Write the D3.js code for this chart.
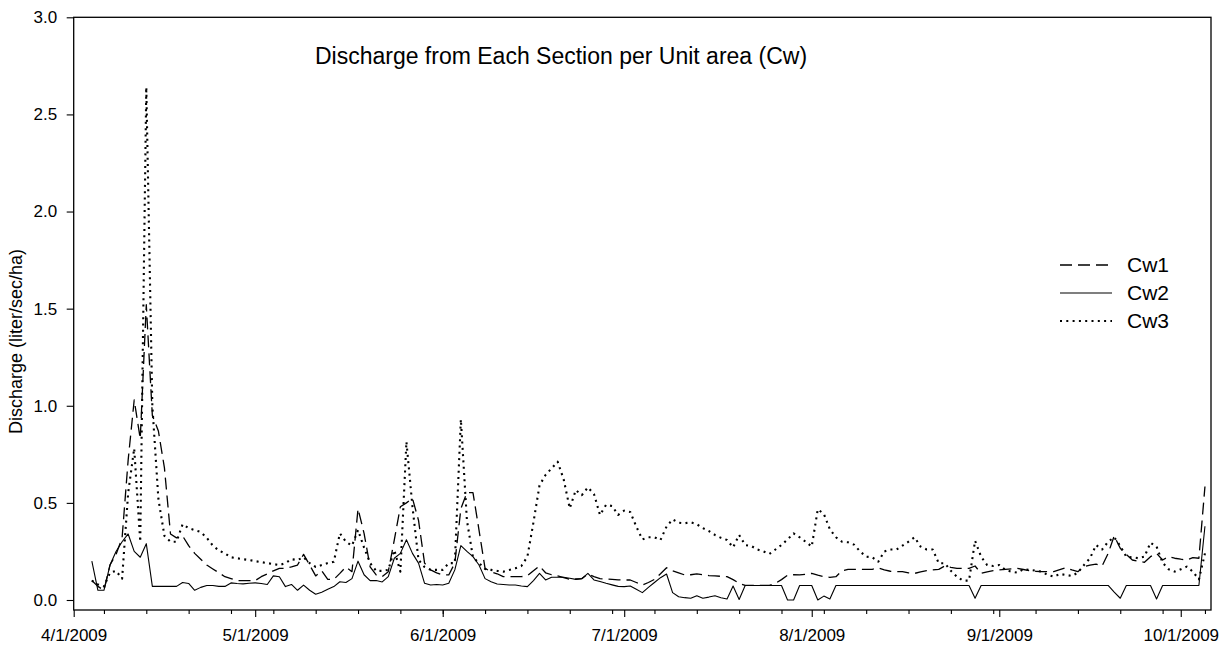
<!DOCTYPE html>
<html>
<head>
<meta charset="utf-8">
<script src="https://cdn.jsdelivr.net/npm/d3@7"></script>
<style>
  html, body { margin: 0; padding: 0; background: #fff; }
  svg { display: block; }
  text { font-family: Arial, "Liberation Sans", sans-serif; fill: #000; }
</style>
</head>
<body>
<svg id="chart" width="1222" height="650"></svg>
<script>
// ---------------- DATA ----------------
const title = "Discharge from Each Section per Unit area (Cw)";
const yLabel = "Discharge (liter/sec/ha)";
const seriesNames = ["Cw1", "Cw2", "Cw3"];
const yTicks = [0, 0.5, 1.0, 1.5, 2.0, 2.5, 3.0];
const xTickDates = ["2009-04-01","2009-05-01","2009-06-01","2009-07-01","2009-08-01","2009-09-01","2009-10-01"];
const xDomain = ["2009-04-01", "2009-10-06"];

const dates = [
  // April
  "2009-04-04","2009-04-05","2009-04-06","2009-04-07","2009-04-08","2009-04-09","2009-04-10","2009-04-11","2009-04-12","2009-04-13",
  "2009-04-14","2009-04-15","2009-04-16","2009-04-17","2009-04-18","2009-04-19","2009-04-20","2009-04-21","2009-04-22","2009-04-23",
  "2009-04-24","2009-04-25","2009-04-26","2009-04-27","2009-04-28","2009-04-29","2009-04-30",
  // May
  "2009-05-01","2009-05-02","2009-05-03","2009-05-04","2009-05-05","2009-05-06","2009-05-07","2009-05-08","2009-05-09","2009-05-10",
  "2009-05-11","2009-05-12","2009-05-13","2009-05-14","2009-05-15","2009-05-16","2009-05-17","2009-05-18","2009-05-19","2009-05-20",
  "2009-05-21","2009-05-22","2009-05-23","2009-05-24","2009-05-25","2009-05-26","2009-05-27","2009-05-28","2009-05-29","2009-05-30",
  "2009-05-31",
  // June
  "2009-06-01","2009-06-02","2009-06-03","2009-06-04","2009-06-05","2009-06-06","2009-06-07","2009-06-08","2009-06-09","2009-06-10",
  "2009-06-11","2009-06-12","2009-06-13","2009-06-14","2009-06-15","2009-06-16","2009-06-17","2009-06-18","2009-06-19","2009-06-20",
  "2009-06-21","2009-06-22","2009-06-23","2009-06-24","2009-06-25","2009-06-26","2009-06-27","2009-06-28","2009-06-29","2009-06-30",
  // July
  "2009-07-01","2009-07-02","2009-07-03","2009-07-04","2009-07-05","2009-07-06","2009-07-07","2009-07-08","2009-07-09","2009-07-10",
  "2009-07-11","2009-07-12","2009-07-13","2009-07-14","2009-07-15","2009-07-16","2009-07-17","2009-07-18","2009-07-19","2009-07-20",
  "2009-07-21","2009-07-22","2009-07-23","2009-07-24","2009-07-25","2009-07-26","2009-07-27","2009-07-28","2009-07-29","2009-07-30",
  "2009-07-31",
  // August
  "2009-08-01","2009-08-02","2009-08-03","2009-08-04","2009-08-05","2009-08-06","2009-08-07","2009-08-08","2009-08-09","2009-08-10",
  "2009-08-11","2009-08-12","2009-08-13","2009-08-14","2009-08-15","2009-08-16","2009-08-17","2009-08-18","2009-08-19","2009-08-20",
  "2009-08-21","2009-08-22","2009-08-23","2009-08-24","2009-08-25","2009-08-26","2009-08-27","2009-08-28","2009-08-29","2009-08-30",
  "2009-08-31",
  // September
  "2009-09-01","2009-09-02","2009-09-03","2009-09-04","2009-09-05","2009-09-06","2009-09-07","2009-09-08","2009-09-09","2009-09-10",
  "2009-09-11","2009-09-12","2009-09-13","2009-09-14","2009-09-15","2009-09-16","2009-09-17","2009-09-18","2009-09-19","2009-09-20",
  "2009-09-21","2009-09-22","2009-09-23","2009-09-24","2009-09-25","2009-09-26","2009-09-27","2009-09-28","2009-09-29","2009-09-30",
  // October
  "2009-10-01","2009-10-02","2009-10-03","2009-10-04","2009-10-05"
];

const cw1 = [
  // April
  0.10,0.07,0.05,0.18,0.235,0.32,0.72,1.03,0.83,1.52,
  0.95,0.87,0.68,0.34,0.32,0.33,0.28,0.24,0.21,0.18,
  0.16,0.14,0.12,0.11,0.10,0.10,0.10,
  // May
  0.10,0.12,0.134,0.15,0.163,0.163,0.17,0.18,0.235,0.18,
  0.124,0.15,0.106,0.106,0.137,0.17,0.146,0.47,0.343,0.17,
  0.129,0.12,0.146,0.31,0.48,0.50,0.523,0.41,0.19,0.155,
  0.14,
  // June
  0.129,0.129,0.19,0.47,0.553,0.553,0.36,0.163,0.145,0.135,
  0.12,0.12,0.12,0.12,0.125,0.15,0.175,0.14,0.13,0.124,
  0.115,0.106,0.108,0.11,0.134,0.12,0.11,0.108,0.106,0.104,
  // July
  0.103,0.103,0.09,0.077,0.09,0.106,0.135,0.166,0.15,0.14,
  0.129,0.13,0.134,0.13,0.126,0.124,0.122,0.12,0.105,0.086,
  0.075,0.075,0.075,0.075,0.075,0.086,0.105,0.127,0.13,0.129,
  0.132,
  // August
  0.137,0.128,0.12,0.117,0.12,0.15,0.158,0.158,0.158,0.158,
  0.158,0.165,0.155,0.148,0.146,0.146,0.14,0.137,0.145,0.151,
  0.155,0.158,0.175,0.168,0.163,0.163,0.163,0.175,0.137,0.145,
  0.151,
  // September
  0.155,0.158,0.16,0.163,0.157,0.151,0.148,0.146,0.146,0.146,
  0.156,0.166,0.155,0.146,0.172,0.18,0.185,0.175,0.24,0.33,
  0.266,0.235,0.206,0.2,0.194,0.223,0.24,0.206,0.223,0.215,
  // October
  0.21,0.206,0.218,0.215,0.584
];

const cw2 = [
  // April
  0.20,0.05,0.05,0.18,0.25,0.30,0.34,0.25,0.22,0.29,
  0.07,0.07,0.07,0.07,0.07,0.09,0.085,0.05,0.065,0.075,
  0.075,0.07,0.07,0.088,0.085,0.083,0.086,
  // May
  0.088,0.085,0.08,0.124,0.12,0.069,0.08,0.05,0.077,0.05,
  0.03,0.04,0.055,0.069,0.094,0.09,0.11,0.20,0.13,0.10,
  0.10,0.093,0.12,0.215,0.24,0.31,0.24,0.19,0.086,0.077,
  0.08,
  // June
  0.077,0.086,0.155,0.28,0.25,0.223,0.18,0.11,0.094,0.082,
  0.08,0.077,0.077,0.072,0.069,0.10,0.137,0.103,0.117,0.117,
  0.117,0.112,0.106,0.11,0.137,0.103,0.095,0.086,0.078,0.07,
  // July
  0.069,0.072,0.055,0.038,0.065,0.09,0.115,0.134,0.038,0.017,
  0.012,0.009,0.022,0.009,0.015,0.022,0.012,0.005,0.072,0.003,
  0.075,0.075,0.075,0.075,0.075,0.075,0.075,0.0,0.0,0.075,
  0.075,
  // August
  0.075,0.0,0.02,0.005,0.075,0.075,0.075,0.075,0.075,0.075,
  0.075,0.075,0.075,0.075,0.075,0.075,0.075,0.075,0.075,0.075,
  0.075,0.075,0.075,0.075,0.075,0.075,0.075,0.009,0.075,0.075,
  0.075,
  // September
  0.075,0.075,0.075,0.075,0.075,0.075,0.075,0.075,0.075,0.075,
  0.075,0.075,0.075,0.075,0.075,0.075,0.075,0.075,0.075,0.04,
  0.009,0.075,0.075,0.075,0.075,0.075,0.005,0.075,0.075,0.075,
  // October
  0.075,0.075,0.075,0.075,0.38
];

const cw3 = [
  // April
  0.10,0.08,0.07,0.14,0.15,0.11,0.55,0.78,0.30,2.64,
  1.0,0.52,0.33,0.30,0.30,0.39,0.37,0.36,0.35,0.32,
  0.28,0.255,0.24,0.22,0.215,0.21,0.206,
  // May
  0.2,0.195,0.19,0.185,0.18,0.19,0.21,0.206,0.22,0.19,
  0.17,0.18,0.19,0.197,0.343,0.30,0.28,0.36,0.27,0.19,
  0.15,0.15,0.155,0.257,0.146,0.815,0.48,0.206,0.17,0.155,
  0.155,
  // June
  0.155,0.19,0.19,0.93,0.41,0.22,0.19,0.16,0.155,0.15,
  0.146,0.155,0.163,0.175,0.223,0.40,0.59,0.644,0.678,0.712,
  0.62,0.472,0.566,0.54,0.58,0.546,0.438,0.49,0.484,0.438,
  // July
  0.46,0.453,0.378,0.312,0.323,0.323,0.309,0.378,0.415,0.398,
  0.395,0.40,0.39,0.37,0.355,0.335,0.32,0.309,0.271,0.335,
  0.283,0.278,0.26,0.25,0.237,0.26,0.283,0.312,0.343,0.323,
  0.30,
  // August
  0.275,0.467,0.443,0.364,0.323,0.30,0.297,0.285,0.25,0.223,
  0.22,0.197,0.25,0.26,0.26,0.28,0.30,0.323,0.275,0.26,
  0.26,0.189,0.189,0.15,0.12,0.10,0.10,0.305,0.223,0.18,
  0.175,
  // September
  0.18,0.155,0.146,0.141,0.158,0.155,0.151,0.146,0.129,0.12,
  0.134,0.129,0.124,0.141,0.18,0.215,0.283,0.26,0.30,0.323,
  0.278,0.223,0.22,0.215,0.223,0.295,0.275,0.192,0.158,0.146,
  // October
  0.158,0.172,0.146,0.106,0.24
];

// ---------------- LAYOUT ----------------
const W = 1222, H = 650;
const plot = { left: 73.7, right: 1211, top: 17.3, bottom: 610, zeroY: 600 };
const font = { tick: 17, label: 18, title: 23, legend: 21 };

const parse = d3.utcParse("%Y-%m-%d");
const svg = d3.select("#chart");
svg.append("rect").attr("width", W).attr("height", H).attr("fill", "#fff");

const x = d3.scaleUtc().domain(xDomain.map(parse)).range([plot.left, plot.right]);
const y = d3.scaleLinear().domain([0, 3]).range([plot.zeroY, plot.top]);

const styles = {
  Cw1: { width: 1.3, dash: "12,6", cap: "butt" },
  Cw2: { width: 1.1, dash: null, cap: "butt" },
  Cw3: { width: 2.1, dash: "2,4.3", cap: "butt" }
};

// Lines
const seriesValues = { Cw1: cw1, Cw2: cw2, Cw3: cw3 };
const parsedDates = dates.map(parse);
const line = d3.line().x(d => x(d[0])).y(d => y(d[1]));
const drawOrder = ["Cw2", "Cw1", "Cw3"];
drawOrder.forEach(name => {
  const pts = parsedDates.map((d, i) => [d, seriesValues[name][i]]);
  const st = styles[name];
  svg.append("path")
    .datum(pts)
    .attr("d", line)
    .attr("fill", "none")
    .attr("stroke", "#000")
    .attr("stroke-width", st.width)
    .attr("stroke-linecap", st.cap)
    .attr("stroke-linejoin", "round")
    .attr("stroke-dasharray", st.dash);
});

// Frame
svg.append("rect")
  .attr("x", plot.left).attr("y", plot.top)
  .attr("width", plot.right - plot.left).attr("height", plot.bottom - plot.top)
  .attr("fill", "none").attr("stroke", "#000").attr("stroke-width", 1.3);

// Y axis
const yAxis = d3.axisLeft(y).tickValues(yTicks).tickSize(7).tickPadding(9.5)
  .tickFormat(d3.format(".1f"));
const gy = svg.append("g").attr("transform", `translate(${plot.left},0)`).call(yAxis);
gy.select(".domain").remove();
gy.selectAll(".tick line").attr("stroke", "#000").attr("stroke-width", 1.1);
gy.selectAll(".tick text").style("font-size", font.tick + "px")
  .style("font-family", "Arial, 'Liberation Sans', sans-serif").attr("fill", "#000");

// X axis: minor weekly ticks
const minorAxis = d3.axisBottom(x).ticks(d3.utcMonday.every(1)).tickSize(4).tickFormat("");
const gxm = svg.append("g").attr("transform", `translate(0,${plot.bottom})`).call(minorAxis);
gxm.select(".domain").remove();
gxm.selectAll(".tick line").attr("stroke", "#000").attr("stroke-width", 1.1);

// X axis: major monthly ticks
const majorAxis = d3.axisBottom(x).tickValues(xTickDates.map(parse)).tickSize(7).tickPadding(12)
  .tickFormat(d3.utcFormat("%-m/%-d/%Y"));
const gx = svg.append("g").attr("transform", `translate(0,${plot.bottom})`).call(majorAxis);
gx.select(".domain").remove();
gx.selectAll(".tick line").attr("stroke", "#000").attr("stroke-width", 1.1);
gx.selectAll(".tick text").style("font-size", font.tick + "px")
  .style("font-family", "Arial, 'Liberation Sans', sans-serif").attr("fill", "#000");

// Y label
svg.append("text")
  .attr("transform", `translate(22,${(248 + 435) / 2}) rotate(-90)`)
  .attr("text-anchor", "middle")
  .style("font-size", font.label + "px")
  .text(yLabel);

// Title
svg.append("text")
  .attr("x", 561).attr("y", 64)
  .attr("text-anchor", "middle")
  .style("font-size", font.title + "px")
  .text(title);

// Legend
const legend = svg.append("g").attr("transform", "translate(1060,265)");
seriesNames.forEach((name, i) => {
  const st = styles[name];
  const g = legend.append("g").attr("transform", `translate(0,${i * 28})`);
  g.append("line").attr("x1", 0).attr("x2", 52).attr("y1", 0).attr("y2", 0)
    .attr("stroke", "#000").attr("stroke-width", st.width)
    .attr("stroke-dasharray", st.dash).attr("stroke-linecap", st.cap);
  g.append("text").attr("x", 67).attr("y", 0).attr("dy", "0.35em")
    .style("font-size", font.legend + "px").text(name);
});
</script>
</body>
</html>
